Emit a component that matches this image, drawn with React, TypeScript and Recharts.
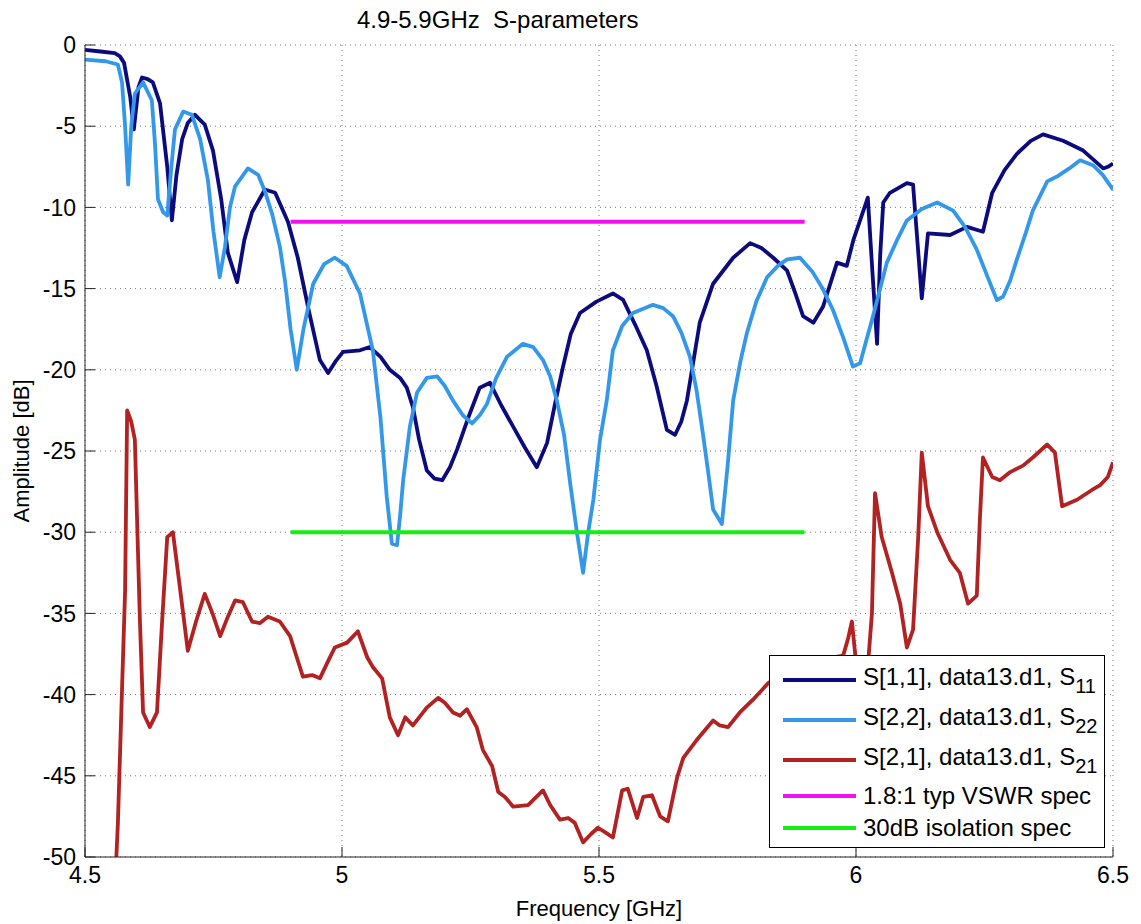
import React from 'react';
import { LineChart, Line, XAxis, YAxis, CartesianGrid, Legend } from 'recharts';

// frequency [GHz] / amplitude [dB]
const s11Freq = [4.5, 4.53, 4.558, 4.568, 4.576, 4.588, 4.595, 4.604, 4.611, 4.622, 4.632, 4.646, 4.66, 4.669, 4.678, 4.689, 4.7, 4.714, 4.733, 4.749, 4.765, 4.778, 4.796, 4.81, 4.825, 4.85, 4.87, 4.895, 4.914, 4.935, 4.957, 4.973, 4.987, 5.002, 5.035, 5.054, 5.075, 5.093, 5.113, 5.126, 5.138, 5.15, 5.165, 5.18, 5.195, 5.21, 5.224, 5.245, 5.268, 5.288, 5.31, 5.333, 5.356, 5.379, 5.399, 5.415, 5.43, 5.445, 5.463, 5.495, 5.527, 5.547, 5.57, 5.593, 5.612, 5.632, 5.648, 5.66, 5.671, 5.696, 5.722, 5.761, 5.794, 5.816, 5.839, 5.866, 5.882, 5.897, 5.917, 5.936, 5.963, 5.982, 5.995, 6.023, 6.032, 6.041, 6.047, 6.053, 6.066, 6.099, 6.111, 6.128, 6.14, 6.183, 6.216, 6.247, 6.265, 6.289, 6.313, 6.34, 6.364, 6.403, 6.442, 6.481, 6.49, 6.5];
const s11Db = [-0.3, -0.4, -0.5, -0.7, -1.1, -3.2, -5.2, -2.6, -2.0, -2.1, -2.3, -3.6, -7.5, -10.8, -8.0, -5.8, -4.8, -4.3, -4.9, -6.5, -9.5, -12.8, -14.6, -12.0, -10.3, -8.9, -9.1, -10.9, -13.1, -16.3, -19.4, -20.2, -19.5, -18.9, -18.8, -18.6, -19.2, -20.0, -20.5, -21.1, -22.3, -24.3, -26.2, -26.7, -26.8, -26.0, -24.9, -23.0, -21.1, -20.8, -22.2, -23.5, -24.8, -26.0, -24.5, -22.0, -19.8, -17.8, -16.5, -15.8, -15.3, -15.7, -17.2, -18.8, -21.0, -23.7, -24.0, -23.2, -21.9, -17.1, -14.7, -13.1, -12.2, -12.5, -13.1, -13.9, -15.3, -16.7, -17.1, -16.1, -13.4, -13.6, -12.0, -9.4, -14.0, -18.4, -13.0, -9.7, -9.1, -8.5, -8.6, -15.6, -11.6, -11.7, -11.2, -11.5, -9.1, -7.7, -6.7, -5.9, -5.5, -5.9, -6.5, -7.6, -7.5, -7.3];

const s22Freq = [4.5, 4.54, 4.564, 4.572, 4.578, 4.584, 4.59, 4.597, 4.613, 4.63, 4.636, 4.642, 4.652, 4.66, 4.668, 4.675, 4.691, 4.708, 4.724, 4.739, 4.75, 4.762, 4.772, 4.782, 4.792, 4.817, 4.837, 4.85, 4.864, 4.879, 4.889, 4.9, 4.912, 4.925, 4.944, 4.965, 4.986, 5.009, 5.035, 5.06, 5.075, 5.087, 5.097, 5.107, 5.113, 5.119, 5.132, 5.146, 5.165, 5.185, 5.2, 5.216, 5.235, 5.253, 5.268, 5.282, 5.3, 5.321, 5.352, 5.372, 5.391, 5.405, 5.418, 5.432, 5.444, 5.457, 5.469, 5.479, 5.489, 5.502, 5.515, 5.527, 5.545, 5.566, 5.605, 5.625, 5.644, 5.66, 5.677, 5.69, 5.702, 5.712, 5.722, 5.739, 5.75, 5.761, 5.775, 5.788, 5.806, 5.827, 5.848, 5.866, 5.891, 5.916, 5.935, 5.955, 5.975, 5.994, 6.008, 6.02, 6.033, 6.047, 6.06, 6.08, 6.099, 6.128, 6.158, 6.189, 6.212, 6.235, 6.255, 6.274, 6.286, 6.3, 6.313, 6.33, 6.344, 6.372, 6.391, 6.415, 6.436, 6.461, 6.48, 6.5];
const s22Db = [-0.9, -1.0, -1.2, -2.3, -5.0, -8.6, -5.0, -3.0, -2.3, -3.4, -6.0, -9.5, -10.3, -10.5, -7.5, -5.2, -4.1, -4.3, -5.8, -8.3, -11.5, -14.3, -12.5, -10.0, -8.7, -7.6, -8.0, -9.0, -10.4, -12.4, -14.5, -17.5, -20.0, -17.5, -14.7, -13.5, -13.1, -13.6, -15.3, -18.8, -23.0, -27.8, -30.7, -30.8, -29.0, -26.8, -23.5, -21.4, -20.5, -20.4, -21.0, -21.9, -22.8, -23.3, -22.8, -22.1, -20.5, -19.2, -18.4, -18.6, -19.4, -20.4, -21.9, -24.0, -27.0, -30.0, -32.5, -30.0, -28.0, -24.3, -21.9, -18.8, -17.3, -16.5, -16.0, -16.2, -16.7, -17.7, -19.2, -21.3, -23.9, -26.2, -28.6, -29.5, -26.0, -21.9, -19.5, -17.7, -15.8, -14.3, -13.6, -13.2, -13.1, -14.0, -15.0, -16.3, -18.0, -19.8, -19.6, -18.2, -16.7, -15.0, -13.4, -12.0, -10.8, -10.1, -9.7, -10.2, -11.2, -12.6, -14.2, -15.7, -15.5, -14.5, -13.2, -11.6, -10.2, -8.4, -8.1, -7.6, -7.1, -7.4, -8.0, -8.9];

const s21Freq = [4.561, 4.564, 4.572, 4.578, 4.582, 4.59, 4.597, 4.602, 4.607, 4.613, 4.626, 4.64, 4.65, 4.66, 4.671, 4.685, 4.7, 4.716, 4.733, 4.748, 4.763, 4.778, 4.792, 4.807, 4.825, 4.84, 4.856, 4.879, 4.899, 4.912, 4.924, 4.942, 4.957, 4.972, 4.986, 5.01, 5.031, 5.049, 5.06, 5.078, 5.093, 5.109, 5.123, 5.138, 5.165, 5.187, 5.2, 5.216, 5.23, 5.243, 5.262, 5.274, 5.292, 5.304, 5.317, 5.333, 5.362, 5.391, 5.405, 5.424, 5.44, 5.453, 5.469, 5.484, 5.498, 5.513, 5.527, 5.545, 5.556, 5.574, 5.586, 5.603, 5.619, 5.634, 5.652, 5.664, 5.69, 5.722, 5.735, 5.751, 5.774, 5.8, 5.829, 5.86, 5.9, 5.94, 5.975, 5.985, 5.992, 6.0, 6.008, 6.02, 6.031, 6.037, 6.05, 6.07, 6.086, 6.099, 6.111, 6.121, 6.128, 6.14, 6.158, 6.183, 6.202, 6.218, 6.235, 6.241, 6.247, 6.265, 6.28, 6.3, 6.325, 6.344, 6.372, 6.387, 6.401, 6.43, 6.459, 6.475, 6.49, 6.5];
const s21Db = [-50.0, -47.9, -39.7, -33.6, -22.5, -23.2, -24.3, -30.0, -35.6, -41.1, -42.0, -41.1, -35.5, -30.3, -30.0, -33.5, -37.3, -35.5, -33.8, -35.0, -36.4, -35.2, -34.2, -34.3, -35.5, -35.6, -35.2, -35.5, -36.4, -37.7, -38.9, -38.8, -39.0, -38.0, -37.1, -36.8, -36.1, -37.7, -38.3, -39.0, -41.4, -42.5, -41.4, -41.9, -40.8, -40.2, -40.5, -41.1, -41.3, -40.9, -42.0, -43.4, -44.4, -46.0, -46.3, -46.9, -46.8, -45.9, -46.8, -47.7, -47.6, -47.9, -49.1, -48.6, -48.2, -48.5, -48.8, -45.9, -45.8, -47.6, -46.3, -46.2, -47.5, -47.8, -45.1, -43.9, -42.8, -41.6, -41.9, -42.0, -41.1, -40.3, -39.3, -38.7, -38.2, -37.8, -37.6, -36.5, -35.5, -38.0, -40.5, -39.5, -35.0, -27.6, -30.3, -32.5, -34.4, -37.1, -36.0, -30.3, -25.1, -28.4, -30.0, -31.7, -32.5, -34.4, -33.9, -29.2, -25.4, -26.6, -26.8, -26.3, -25.9, -25.4, -24.6, -25.1, -28.4, -28.0, -27.4, -27.1, -26.6, -25.7];

const specFreq = [4.9, 5.9];
const vswrSpecDb = [-10.88, -10.88];
const isoSpecDb = [-30, -30];

const xTicks = [4.5, 5, 5.5, 6, 6.5];
const yTicks = [0, -5, -10, -15, -20, -25, -30, -35, -40, -45, -50];

const toPoints = (xs: number[], ys: number[]) => xs.map((x, i) => ({ x, y: ys[i] }));

const series = [
  { key: 's11', data: toPoints(s11Freq, s11Db), color: '#0b0b7e', width: 3.8, label: 'S[1,1], data13.d1, S', sub: '11' },
  { key: 's22', data: toPoints(s22Freq, s22Db), color: '#3498ea', width: 3.8, label: 'S[2,2], data13.d1, S', sub: '22' },
  { key: 's21', data: toPoints(s21Freq, s21Db), color: '#b22222', width: 3.8, label: 'S[2,1], data13.d1, S', sub: '21' },
  { key: 'vswr', data: toPoints(specFreq, vswrSpecDb), color: '#f010f0', width: 4, label: '1.8:1 typ VSWR spec', sub: '' },
  { key: 'iso', data: toPoints(specFreq, isoSpecDb), color: '#14ee14', width: 4, label: '30dB isolation spec', sub: '' },
];

const FONT = '"Liberation Sans", Arial, Helvetica, sans-serif';
const tickStyle = { fontSize: 23, fill: '#000', fontFamily: FONT };

const renderLegend = () => (
  <div
    style={{
      border: '1px solid #000',
      background: '#fff',
      boxSizing: 'border-box',
      width: '100%',
      height: '100%',
      padding: '4px 0 0 13px',
      fontFamily: FONT,
      fontSize: 24,
      color: '#000',
    }}
  >
    {series.map((s) => (
      <div key={s.key} style={{ display: 'flex', alignItems: 'center', height: s.sub ? 40 : 32 }}>
        <span style={{ display: 'inline-block', width: 73, height: 4, background: s.color, marginRight: 7 }} />
        <span style={{ whiteSpace: 'pre' }}>
          {s.label}
          {s.sub && <sub style={{ fontSize: 20, verticalAlign: -8 }}>{s.sub}</sub>}
        </span>
      </div>
    ))}
  </div>
);

export default function App() {
  return (
    <div style={{ position: 'relative', width: 1133, height: 916 }}>
      <div
        style={{
          position: 'absolute',
          left: 349,
          top: -2,
          fontFamily: FONT,
          fontSize: 24,
          whiteSpace: 'pre',
          color: '#000',
        }}
      >
        {'4.9-5.9GHz  S-parameters'}
      </div>
      <LineChart width={1133} height={916} margin={{ top: 37, right: 28, left: 0, bottom: 0 }}>
        <CartesianGrid stroke="#777" strokeDasharray="1 4" />
        <XAxis
          dataKey="x"
          type="number"
          domain={[4.5, 6.5]}
          ticks={xTicks}
          allowDataOverflow
          height={67}
          tickSize={-10}
          tickMargin={20}
          tick={tickStyle}
          stroke="#222"
          label={{ value: 'Frequency [GHz]', position: 'insideBottom', offset: 8, style: { fontSize: 22, fill: '#000', fontFamily: FONT } }}
        />
        <XAxis xAxisId="top" orientation="top" dataKey="x" type="number" domain={[4.5, 6.5]} ticks={xTicks} height={0} tickSize={-10} tick={false} stroke="#222" />
        <YAxis
          type="number"
          domain={[-50, 0]}
          ticks={yTicks}
          allowDataOverflow
          width={77}
          tickSize={-10}
          tickMargin={19}
          tick={tickStyle}
          stroke="#222"
          label={{ value: 'Amplitude [dB]', angle: -90, position: 'insideLeft', offset: 13, style: { fontSize: 22, fill: '#000', fontFamily: FONT, textAnchor: 'middle' } }}
        />
        <YAxis yAxisId="right" orientation="right" type="number" domain={[-50, 0]} ticks={yTicks} width={0} tickSize={-10} tick={false} stroke="#222" />
        <Legend
          layout="vertical"
          align="center"
          verticalAlign="middle"
          content={renderLegend}
          wrapperStyle={{ left: 761, top: 647, width: 336, height: 193 }}
        />
        {series.map((s) => (
          <Line
            key={s.key}
            data={s.data}
            dataKey="y"
            type="linear"
            stroke={s.color}
            strokeWidth={s.width}
            strokeLinejoin="round"
            dot={false}
            activeDot={false}
            isAnimationActive={false}
          />
        ))}
      </LineChart>
    </div>
  );
}
